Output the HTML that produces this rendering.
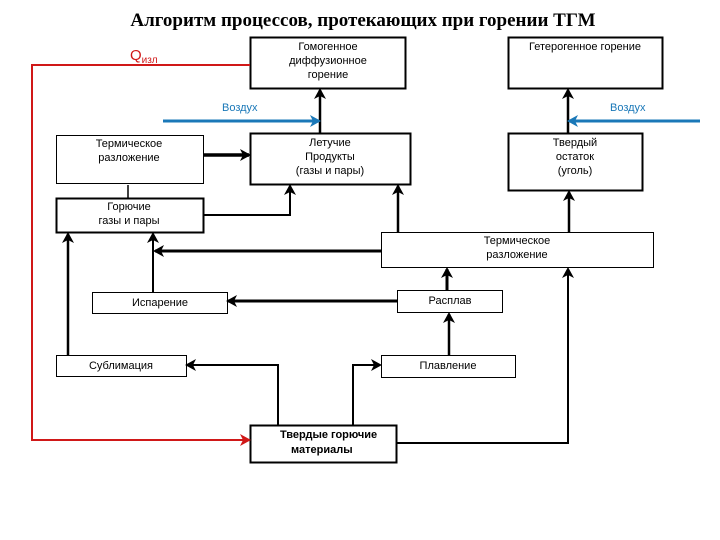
<!DOCTYPE html>
<html><head><meta charset="utf-8"><style>
body{margin:0;background:#fff}
svg{display:block}
text{font-family:"Liberation Sans",sans-serif;font-size:11px;fill:#000}
</style></head><body>
<svg width="720" height="540" viewBox="0 0 720 540" xmlns="http://www.w3.org/2000/svg">
<defs>
<marker id="a" markerWidth="12" markerHeight="12" refX="9" refY="6" orient="auto" markerUnits="userSpaceOnUse"><path d="M0,0 L11,6 L0,12 L3,6 Z" fill="#000"/></marker>
<marker id="r" markerWidth="12" markerHeight="12" refX="9" refY="6" orient="auto" markerUnits="userSpaceOnUse"><path d="M0,0 L11,6 L0,12 L3,6 Z" fill="#d01818"/></marker>
<marker id="b" markerWidth="12" markerHeight="12" refX="9" refY="6" orient="auto" markerUnits="userSpaceOnUse"><path d="M0,0 L11,6 L0,12 L3,6 Z" fill="#1a78b8"/></marker>
</defs>
<text x="363" y="26" text-anchor="middle" style="font-family:'Liberation Serif',serif;font-weight:bold;font-size:19px">Алгоритм процессов, протекающих при горении ТГМ</text>
<text x="130" y="60" style="fill:#d01818;font-size:15px">Q<tspan style="font-size:10px;fill:#d01818" dy="3">изл</tspan></text>
<g fill="none" stroke="#000">
<rect x="250.5" y="37.5" width="155" height="51" stroke-width="2"/>
<rect x="508.5" y="37.5" width="154" height="51" stroke-width="2"/>
<rect x="56.5" y="135.5" width="147" height="48" stroke-width="1"/>
<rect x="250.5" y="133.5" width="160" height="51" stroke-width="2"/>
<rect x="508.5" y="133.5" width="134" height="57" stroke-width="2"/>
<rect x="56.5" y="198.5" width="147" height="34" stroke-width="2"/>
<rect x="381.5" y="232.5" width="272" height="35" stroke-width="1"/>
<rect x="92.5" y="292.5" width="135" height="21" stroke-width="1"/>
<rect x="397.5" y="290.5" width="105" height="22" stroke-width="1"/>
<rect x="56.5" y="355.5" width="130" height="21" stroke-width="1"/>
<rect x="381.5" y="355.5" width="134" height="22" stroke-width="1"/>
<rect x="250.5" y="425.5" width="146" height="37" stroke-width="2"/>
</g>
<g stroke="#000" fill="none" stroke-width="2.5">
<path d="M320,133 V90" marker-end="url(#a)"/>
<path d="M568,133 V90" marker-end="url(#a)"/>
<path d="M203,155 H249" stroke-width="3.5" marker-end="url(#a)"/>
<path d="M128,198 V185" stroke-width="1.5"/>
<path d="M203,215 H290 V186" stroke-width="2" marker-end="url(#a)"/>
<path d="M398,232 V186" marker-end="url(#a)"/>
<path d="M569,232 V192" marker-end="url(#a)"/>
<path d="M381,251 H155" stroke-width="3" marker-end="url(#a)"/>
<path d="M153,292 V234" stroke-width="2" marker-end="url(#a)"/>
<path d="M68,355 V234" marker-end="url(#a)"/>
<path d="M447,290 V269" stroke-width="3" marker-end="url(#a)"/>
<path d="M397,301 H228" stroke-width="3" marker-end="url(#a)"/>
<path d="M449,355 V314" stroke-width="2.5" marker-end="url(#a)"/>
<path d="M278,425 V365 H187" stroke-width="2" marker-end="url(#a)"/>
<path d="M353,425 V365 H380" stroke-width="2" marker-end="url(#a)"/>
<path d="M396,443 H568 V269" stroke-width="2" marker-end="url(#a)"/>
</g>
<path d="M250,65 H32 V440 H249" stroke="#d01818" stroke-width="2" fill="none" marker-end="url(#r)"/>
<path d="M163,121 H319" stroke="#1a78b8" stroke-width="3" fill="none" marker-end="url(#b)"/>
<path d="M700,121 H569" stroke="#1a78b8" stroke-width="3" fill="none" marker-end="url(#b)"/>
<text x="222" y="111" style="fill:#1a78b8">Воздух</text>
<text x="610" y="111" style="fill:#1a78b8">Воздух</text>
<g text-anchor="middle">
<text x="328" y="50">Гомогенное</text><text x="328" y="64">диффузионное</text><text x="328" y="78">горение</text>
<text x="585" y="50">Гетерогенное горение</text>
<text x="129" y="147">Термическое</text><text x="129" y="161">разложение</text>
<text x="330" y="146">Летучие</text><text x="330" y="160">Продукты</text><text x="330" y="174">(газы и пары)</text>
<text x="575" y="146">Твердый</text><text x="575" y="160">остаток</text><text x="575" y="174">(уголь)</text>
<text x="129" y="210">Горючие</text><text x="129" y="224">газы и пары</text>
<text x="517" y="244">Термическое</text><text x="517" y="258">разложение</text>
<text x="160" y="306">Испарение</text>
<text x="450" y="304">Расплав</text>
<text x="121" y="369">Сублимация</text>
<text x="448" y="369">Плавление</text>
</g>
<text x="280" y="438" style="font-weight:bold">Твердые горючие</text>
<text x="291" y="453" style="font-weight:bold">материалы</text>
</svg>
</body></html>
